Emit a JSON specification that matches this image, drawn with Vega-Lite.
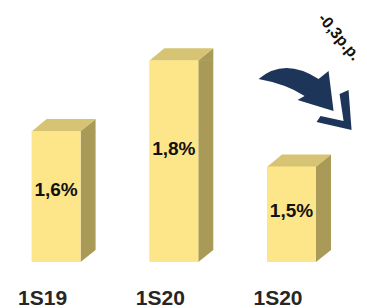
{
  "$schema": "https://vega.github.io/schema/vega-lite/v6.json",
  "width": 367,
  "height": 308,
  "padding": 0,
  "autosize": {"type": "none"},
  "background": "white",
  "config": {"view": {"stroke": null}},
  "data": {
    "values": [
      {"n": 1, "period": "1S19", "value": 1.6, "label": "1,6%"},
      {"n": 2, "period": "1S20", "value": 1.8, "label": "1,8%"},
      {"n": 3, "period": "1S20", "value": 1.5, "label": "1,5%"}
    ]
  },
  "resolve": {"scale": {"y": "independent"}},
  "layer": [
    {
      "mark": {"type": "bar", "width": 15, "xOffset": 32, "color": "#A99A58"},
      "encoding": {
        "x": {"field": "n", "type": "quantitative", "scale": {"domain": [0.566, 3.599], "nice": false, "zero": false}, "axis": null},
        "y": {"field": "value", "type": "quantitative", "scale": {"domain": [1.1, 1.97], "nice": false, "zero": false}, "axis": null},
        "y2": {"datum": 1.23}
      }
    },
    {
      "mark": {"type": "point", "filled": true, "size": 4, "opacity": 1, "strokeWidth": 0, "color": "white", "shape": "M24.5,0L39.5,-12L41,-12L41,2L24.5,2Z"},
      "encoding": {
        "x": {"field": "n", "type": "quantitative", "scale": {"domain": [0.566, 3.599], "nice": false, "zero": false}, "axis": null},
        "y": {"datum": 1.23, "type": "quantitative", "scale": {"domain": [1.1, 1.97], "nice": false, "zero": false}, "axis": null}
      }
    },
    {
      "mark": {"type": "point", "filled": true, "size": 4, "opacity": 1, "strokeWidth": 0, "color": "#A99A58", "shape": "M24,0.5L39.5,-12L39.5,0.5Z"},
      "encoding": {
        "x": {"field": "n", "type": "quantitative", "scale": {"domain": [0.566, 3.599], "nice": false, "zero": false}, "axis": null},
        "y": {"field": "value", "type": "quantitative", "scale": {"domain": [1.1, 1.97], "nice": false, "zero": false}, "axis": null}
      }
    },
    {
      "mark": {"type": "point", "filled": true, "size": 4, "opacity": 1, "strokeWidth": 0, "color": "#D6C474", "shape": "M-24.5,0.5L-9.5,-12L39.5,-12L24.5,0.5Z"},
      "encoding": {
        "x": {"field": "n", "type": "quantitative", "scale": {"domain": [0.566, 3.599], "nice": false, "zero": false}, "axis": null},
        "y": {"field": "value", "type": "quantitative", "scale": {"domain": [1.1, 1.97], "nice": false, "zero": false}, "axis": null}
      }
    },
    {
      "mark": {"type": "bar", "width": 49, "color": "#FDE58A"},
      "encoding": {
        "x": {"field": "n", "type": "quantitative", "scale": {"domain": [0.566, 3.599], "nice": false, "zero": false}, "axis": null},
        "y": {"field": "value", "type": "quantitative", "scale": {"domain": [1.1, 1.97], "nice": false, "zero": false}, "axis": null},
        "y2": {"datum": 1.23}
      }
    },
    {
      "mark": {"type": "text", "font": "Liberation Sans", "fontWeight": "bold", "fontSize": 19, "color": "#111111", "baseline": "middle", "align": "center"},
      "encoding": {
        "x": {"field": "n", "type": "quantitative", "scale": {"domain": [0.566, 3.599], "nice": false, "zero": false}, "axis": null},
        "y": {"field": "value", "type": "quantitative", "scale": {"domain": [1.036, 2.512], "nice": false, "zero": false}, "axis": null},
        "text": {"field": "label"}
      }
    },
    {
      "mark": {"type": "text", "font": "Liberation Sans", "fontWeight": "bold", "fontSize": 21, "color": "#262626", "baseline": "alphabetic", "align": "center", "dx": -13.5},
      "encoding": {
        "x": {"field": "n", "type": "quantitative", "scale": {"domain": [0.566, 3.599], "nice": false, "zero": false}, "axis": null},
        "y": {"datum": 1.1085, "type": "quantitative", "scale": {"domain": [1.1, 1.97], "nice": false, "zero": false}, "axis": null},
        "text": {"field": "period"}
      }
    },
    {
      "data": {"values": [{"note": "-0,3p.p."}]},
      "layer": [
        {
          "mark": {"type": "point", "filled": true, "size": 4, "opacity": 1, "strokeWidth": 0, "color": "#1D3558", "shape": "M-48,-18Q-22,-40 12,-18L22,-26L27,14L-9,3L-2,-1Q-20,-13 -48,-18Z M33,-3L42,-7L45,33L10,25L14,19L37,24Z"},
          "encoding": {
            "x": {"datum": 3.128, "type": "quantitative", "scale": {"domain": [0.566, 3.599], "nice": false, "zero": false}, "axis": null},
            "y": {"datum": 1.696, "type": "quantitative", "scale": {"domain": [1.1, 1.97], "nice": false, "zero": false}, "axis": null}
          }
        },
        {
          "mark": {"type": "text", "font": "Liberation Sans", "fontWeight": "bold", "fontSize": 16, "color": "#111111", "baseline": "middle", "align": "center", "angle": 50},
          "encoding": {
            "x": {"datum": 3.405, "type": "quantitative", "scale": {"domain": [0.566, 3.599], "nice": false, "zero": false}, "axis": null},
            "y": {"datum": 1.8655, "type": "quantitative", "scale": {"domain": [1.1, 1.97], "nice": false, "zero": false}, "axis": null},
            "text": {"field": "note"}
          }
        }
      ]
    }
  ]
}
